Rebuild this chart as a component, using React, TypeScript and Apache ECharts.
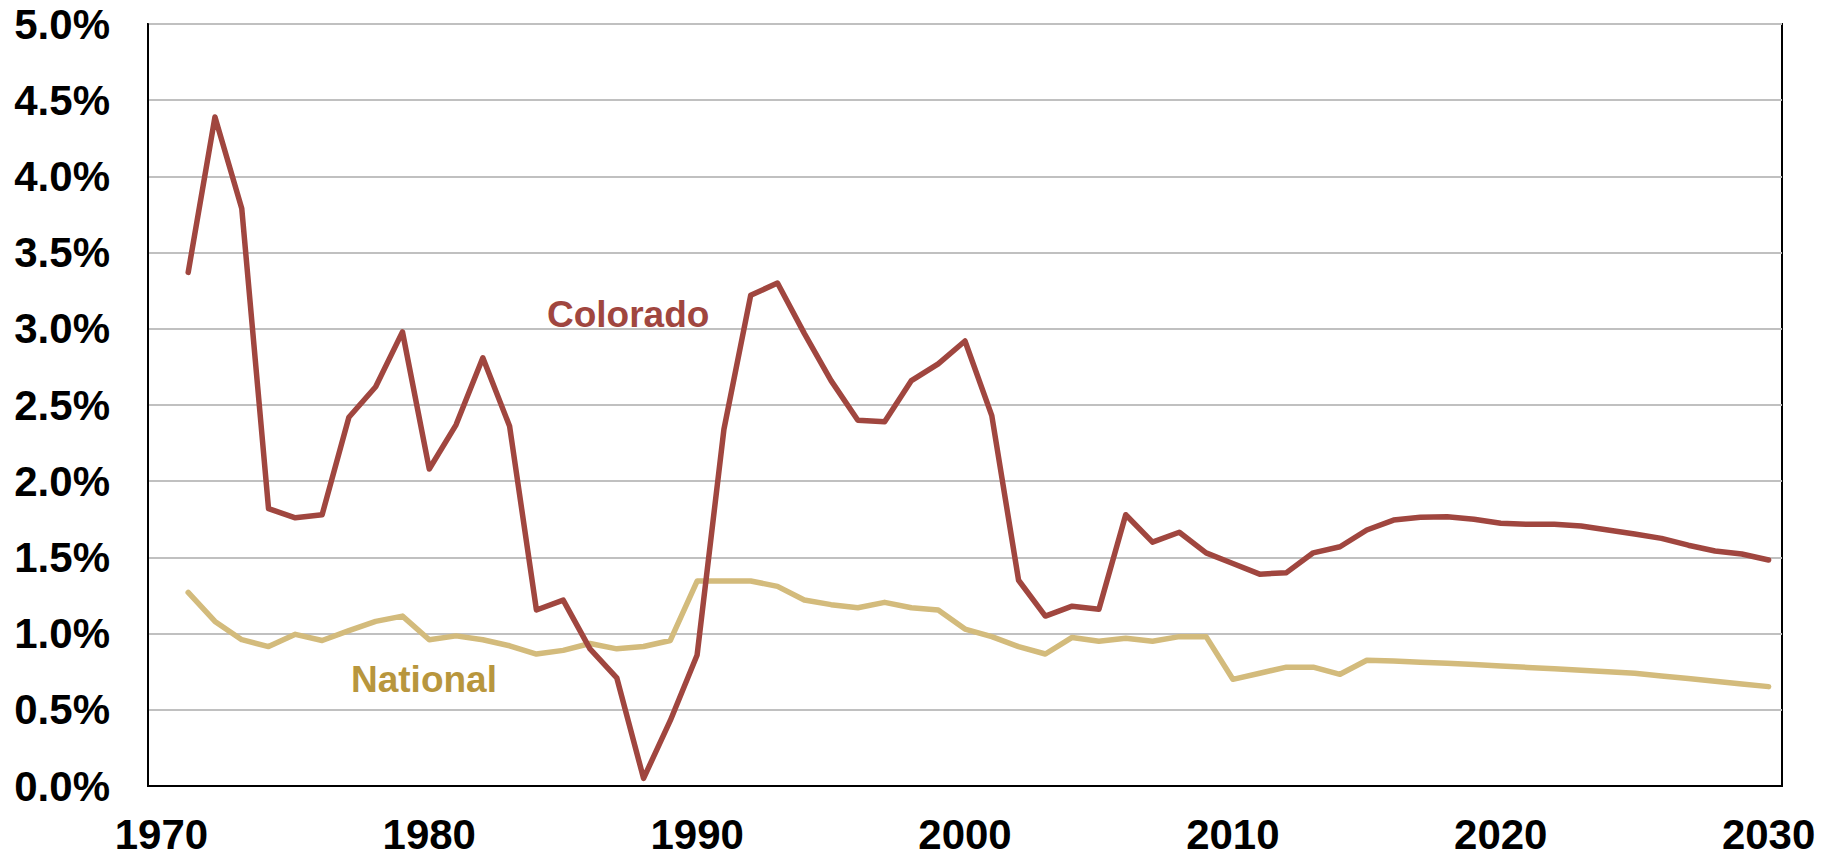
import React, { useEffect, useRef } from "react";
import * as echarts from "echarts";

const years: string[] = [
  "1970", "1971", "1972", "1973", "1974", "1975", "1976", "1977", "1978", "1979",
  "1980", "1981", "1982", "1983", "1984", "1985", "1986", "1987", "1988", "1989",
  "1990", "1991", "1992", "1993", "1994", "1995", "1996", "1997", "1998", "1999",
  "2000", "2001", "2002", "2003", "2004", "2005", "2006", "2007", "2008", "2009",
  "2010", "2011", "2012", "2013", "2014", "2015", "2016", "2017", "2018", "2019",
  "2020", "2021", "2022", "2023", "2024", "2025", "2026", "2027", "2028", "2029",
  "2030",
];

// Annual growth rate, percent
const colorado: (number | null)[] = [
  null, 3.37, 4.39, 3.79, 1.82, 1.76, 1.78, 2.42, 2.62, 2.98,
  2.08, 2.37, 2.81, 2.36, 1.155, 1.22, 0.9, 0.71, 0.05, 0.43,
  0.86, 2.34, 3.22, 3.3, 2.97, 2.66, 2.4, 2.39, 2.66, 2.77,
  2.92, 2.43, 1.35, 1.115, 1.18, 1.16, 1.78, 1.6, 1.665, 1.53,
  1.46, 1.39, 1.4, 1.53, 1.57, 1.68, 1.745, 1.763, 1.767, 1.75,
  1.724, 1.717, 1.717, 1.706, 1.68, 1.654, 1.625, 1.58, 1.542, 1.522,
  1.483,
];

const national: (number | null)[] = [
  null, 1.27, 1.08, 0.96, 0.915, 0.995, 0.955, 1.02, 1.08, 1.115,
  0.96, 0.985, 0.96, 0.92, 0.866, 0.89, 0.935, 0.9, 0.915, 0.955,
  1.345, 1.345, 1.345, 1.31, 1.22, 1.19, 1.17, 1.205, 1.17, 1.155,
  1.03, 0.98, 0.915, 0.866, 0.975, 0.95, 0.97, 0.95, 0.98, 0.98,
  0.7, 0.74, 0.78, 0.78, 0.733, 0.825, 0.82, 0.812, 0.805, 0.797,
  0.787, 0.778, 0.77, 0.76, 0.75, 0.74, 0.722, 0.705, 0.687, 0.67,
  0.652,
];

const seriesNames = ["Colorado", "National"];
const lineColors = ["#A0463F", "#D3BB7C"];
const labelColors = ["#A0463F", "#B8963D"];

const FONT = "Arial, 'Liberation Sans', Helvetica, sans-serif";

export default function App() {
  const ref = useRef<HTMLDivElement>(null);

  useEffect(() => {
    document.body.style.margin = "0";
    if (!ref.current) return;
    const chart = echarts.init(ref.current, undefined, { renderer: "svg" });
    chart.setOption({
      animation: false,
      backgroundColor: "#ffffff",
      grid: {
        left: 148,
        right: 51,
        top: 24,
        bottom: 70,
        show: true,
        borderColor: "#000000",
        borderWidth: 2,
        backgroundColor: "transparent",
      },
      xAxis: {
        type: "category",
        data: years,
        boundaryGap: true,
        axisLine: { show: true, lineStyle: { color: "#000000", width: 2 } },
        axisTick: { show: false },
        axisLabel: {
          interval: 9,
          margin: 27,
          color: "#000000",
          fontSize: 42,
          fontWeight: "bold",
          fontFamily: FONT,
        },
        splitLine: { show: false },
      },
      yAxis: {
        type: "value",
        min: 0,
        max: 5,
        interval: 0.5,
        axisLine: { show: true, lineStyle: { color: "#000000", width: 2 } },
        axisTick: { show: false },
        axisLabel: {
          margin: 38,
          color: "#000000",
          fontSize: 42,
          fontWeight: "bold",
          fontFamily: FONT,
          formatter: (v: number) => v.toFixed(1) + "%",
        },
        splitLine: { show: true, lineStyle: { color: "#C0C0C0", width: 2 } },
      },
      series: [
        {
          name: seriesNames[1],
          type: "line",
          data: national,
          showSymbol: false,
          symbol: "none",
          z: 2,
          lineStyle: { color: lineColors[1], width: 5.5, cap: "round", join: "round" },
        },
        {
          name: seriesNames[0],
          type: "line",
          data: colorado,
          showSymbol: false,
          symbol: "none",
          z: 3,
          lineStyle: { color: lineColors[0], width: 5.5, cap: "round", join: "round" },
        },
      ],
      graphic: [
        {
          type: "text",
          x: 547,
          y: 314,
          style: {
            text: seriesNames[0],
            fill: labelColors[0],
            font: `bold 37px ${FONT}`,
            align: "left",
            verticalAlign: "middle",
          },
        },
        {
          type: "text",
          x: 351,
          y: 679,
          style: {
            text: seriesNames[1],
            fill: labelColors[1],
            font: `bold 37px ${FONT}`,
            align: "left",
            verticalAlign: "middle",
          },
        },
      ],
    });
    return () => chart.dispose();
  }, []);

  return <div ref={ref} style={{ width: 1833, height: 856 }} />;
}
